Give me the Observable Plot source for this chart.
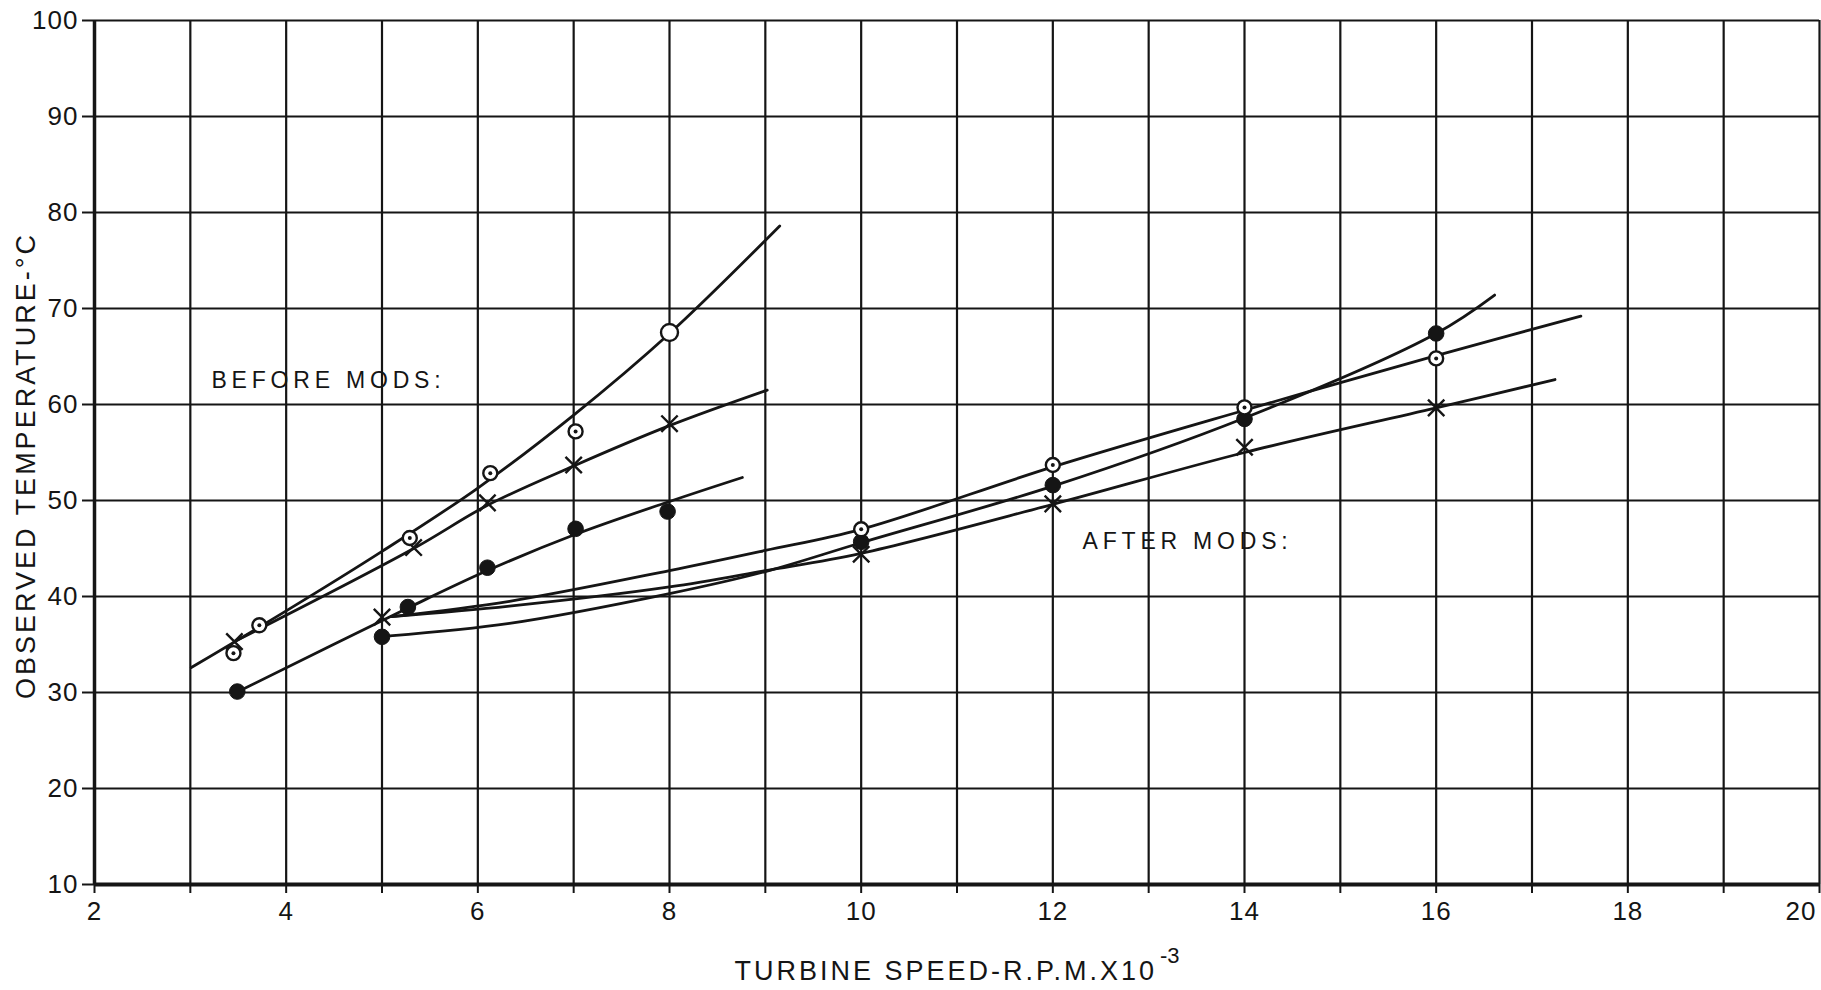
<!DOCTYPE html>
<html>
<head>
<meta charset="utf-8">
<script src="https://cdn.jsdelivr.net/npm/d3@7"></script>
<script src="https://cdn.jsdelivr.net/npm/@observablehq/plot@0.6"></script>
<style>
  html, body { margin: 0; padding: 0; background: #ffffff; }
  #chart { width: 1821px; height: 990px; overflow: hidden; }
  #chart svg { display: block; }
  #chart g[font-size="27"] text { letter-spacing: 3px; }
  #chart g[font-size="23"] text { letter-spacing: 4.8px; }
  #chart g[font-size="26"] text { letter-spacing: 1px; }
</style>
</head>
<body>
<div id="chart"></div>
<script>
// ---------- axis ticks ----------
const xTickValues = [2, 3, 4, 5, 6, 7, 8, 9, 10, 11, 12, 13, 14, 15, 16, 17, 18, 19, 20];
const xTickLabels = ["2", "", "4", "", "6", "", "8", "", "10", "", "12", "", "14", "", "16", "", "18", "", "20"];
const yTickValues = [10, 20, 30, 40, 50, 60, 70, 80, 90, 100];

// ---------- titles ----------
const xTitle = ["TURBINE SPEED-R.P.M.X10"];
const xTitleExponent = ["-3"];
const yTitle = ["OBSERVED TEMPERATURE-°C"];

// ---------- annotations ----------
const noteText = ["BEFORE MODS:", "AFTER MODS:"];
const noteSpeed = [3.22, 12.31];
const noteTemp = [62.5, 45.7];

// ---------- BEFORE MODS: measured points ----------
const beforeCircleSpeed = [3.45, 3.72, 5.29, 6.13, 7.02];
const beforeCircleTemp  = [34.1, 37.0, 46.1, 52.85, 57.2];
const beforeOpenCircleSpeed = [8.0];          // plain open circle (no centre dot)
const beforeOpenCircleTemp  = [67.5];

const beforeCrossSpeed = [3.46, 5.33, 6.1, 7.0, 8.0];
const beforeCrossTemp  = [35.3, 45.1, 49.75, 53.7, 58.0];

const beforeDiscSpeed = [3.49, 5.27, 6.1, 7.02, 7.98];
const beforeDiscTemp  = [30.1, 38.9, 43.0, 47.05, 48.85];

// ---------- AFTER MODS: measured points ----------
const afterCircleSpeed = [10, 12, 14, 16];
const afterCircleTemp  = [47.0, 53.7, 59.7, 64.8];

const afterCrossSpeed = [5, 10, 12, 14, 16];
const afterCrossTemp  = [37.85, 44.4, 49.65, 55.55, 59.65];

const afterDiscSpeed = [5, 10, 12, 14, 16];
const afterDiscTemp  = [35.8, 45.7, 51.6, 58.5, 67.4];

// ---------- faired curves as drawn ----------
const beforeCircleCurveSpeed = [3.01, 4.0, 5.0, 6.0, 7.0, 8.0, 9.15];
const beforeCircleCurveTemp  = [32.6, 38.5, 44.7, 51.3, 58.9, 67.4, 78.6];

const beforeCrossCurveSpeed = [3.46, 5.33, 6.1, 7.0, 8.0, 9.02];
const beforeCrossCurveTemp  = [35.3, 45.0, 49.5, 53.6, 57.8, 61.5];

const beforeDiscCurveSpeed = [3.5, 5.27, 6.1, 7.0, 8.0, 8.76];
const beforeDiscCurveTemp  = [30.1, 38.8, 42.7, 46.4, 49.9, 52.4];

const afterCircleCurveSpeed = [5.1, 6.33, 8.0, 9.0, 10.0, 12.0, 14.0, 16.0, 17.51];
const afterCircleCurveTemp  = [37.9, 39.5, 42.7, 44.8, 47.0, 53.5, 59.4, 65.1, 69.2];

const afterCrossCurveSpeed = [5.1, 6.33, 8.0, 9.0, 10.0, 12.0, 14.0, 16.0, 17.24];
const afterCrossCurveTemp  = [37.9, 39.0, 41.0, 42.7, 44.5, 49.6, 55.0, 59.65, 62.6];

const afterDiscCurveSpeed = [5.08, 6.33, 8.0, 9.0, 10.0, 12.0, 14.0, 16.0, 16.61];
const afterDiscCurveTemp  = [35.9, 37.2, 40.3, 42.6, 45.6, 51.5, 58.6, 67.4, 71.4];

// ---------- build tables ----------
const pts = (xs, ys) => xs.map((x, i) => ({speed: x, temp: ys[i]}));

const curves = [
  pts(beforeCircleCurveSpeed, beforeCircleCurveTemp),
  pts(beforeCrossCurveSpeed, beforeCrossCurveTemp),
  pts(beforeDiscCurveSpeed, beforeDiscCurveTemp),
  pts(afterCircleCurveSpeed, afterCircleCurveTemp),
  pts(afterCrossCurveSpeed, afterCrossCurveTemp),
  pts(afterDiscCurveSpeed, afterDiscCurveTemp)
];

const dottedCircles = [
  ...pts(beforeCircleSpeed, beforeCircleTemp),
  ...pts(afterCircleSpeed, afterCircleTemp)
];
const openCircles = pts(beforeOpenCircleSpeed, beforeOpenCircleTemp);
const crosses = [
  ...pts(beforeCrossSpeed, beforeCrossTemp),
  ...pts(afterCrossSpeed, afterCrossTemp)
];
const discs = [
  ...pts(beforeDiscSpeed, beforeDiscTemp),
  ...pts(afterDiscSpeed, afterDiscTemp)
];
const notes = noteText.map((t, i) => ({text: t, speed: noteSpeed[i], temp: noteTemp[i]}));
const lastTick = xTickValues[xTickValues.length - 1];

const ink = "#151515";

const plot = Plot.plot({
  width: 1821,
  height: 990,
  marginLeft: 94,
  marginRight: 2,
  marginTop: 20,
  marginBottom: 106,
  style: {background: "#ffffff", color: ink, fontFamily: "'Liberation Sans', Arial, sans-serif", fontSize: "26px"},
  x: {domain: [2, 20], label: null},
  y: {domain: [10, 100], label: null},
  marks: [
    Plot.gridX(xTickValues, {stroke: ink, strokeOpacity: 1, strokeWidth: 2.2}),
    Plot.gridY(yTickValues, {stroke: ink, strokeOpacity: 1, strokeWidth: 2.2}),
    Plot.ruleX([2], {stroke: ink, strokeWidth: 3.5}),
    Plot.ruleY([10], {stroke: ink, strokeWidth: 4}),
    Plot.axisX(xTickValues, {
      tickSize: 9, tickPadding: 8, strokeWidth: 2, fontSize: 26,
      tickFormat: (d) => d === lastTick ? "" : xTickLabels[xTickValues.indexOf(d)], label: null
    }),
    // last x label kept inside the picture, right-aligned on its grid line
    Plot.text([lastTick], {x: (d) => d, frameAnchor: "bottom", text: (d) => xTickLabels[xTickValues.indexOf(d)],
      dy: 17, dx: -3, textAnchor: "end", lineAnchor: "top", fontSize: 26, fill: ink}),
    Plot.axisY(yTickValues, {tickSize: 12, tickPadding: 4, strokeWidth: 2, fontSize: 26, label: null}),

    // faired curves
    ...curves.map((c) => Plot.line(c, {x: "speed", y: "temp", curve: "catmull-rom", stroke: ink, strokeWidth: 2.8})),

    // markers
    Plot.dot(discs, {x: "speed", y: "temp", r: 7.8, fill: ink, stroke: ink, strokeWidth: 1}),
    Plot.dot(crosses, {x: "speed", y: "temp", symbol: "times", r: 7.5, stroke: ink, strokeWidth: 2.4}),
    Plot.dot(dottedCircles, {x: "speed", y: "temp", r: 7, fill: "#ffffff", stroke: ink, strokeWidth: 2.4}),
    Plot.dot(dottedCircles, {x: "speed", y: "temp", r: 2, fill: ink, stroke: "none"}),
    Plot.dot(openCircles, {x: "speed", y: "temp", r: 8.5, fill: "#ffffff", stroke: ink, strokeWidth: 2.4}),

    // annotations
    Plot.text(notes, {x: "speed", y: "temp", text: "text", textAnchor: "start", lineAnchor: "middle", fontSize: 23, fill: ink}),

    // axis titles
    Plot.text(xTitle, {frameAnchor: "bottom", text: (d) => d, dx: 200, dy: 87, textAnchor: "end", lineAnchor: "middle", fontSize: 27, fill: ink}),
    Plot.text(xTitleExponent, {frameAnchor: "bottom", text: (d) => d, dx: 203, dy: 71, textAnchor: "start", lineAnchor: "middle", fontSize: 22, fill: ink}),
    Plot.text(yTitle, {frameAnchor: "left", text: (d) => d, dx: -68, dy: 13, rotate: -90, textAnchor: "middle", lineAnchor: "middle", fontSize: 27, fill: ink})
  ]
});

document.getElementById("chart").appendChild(plot);
</script>
</body>
</html>
